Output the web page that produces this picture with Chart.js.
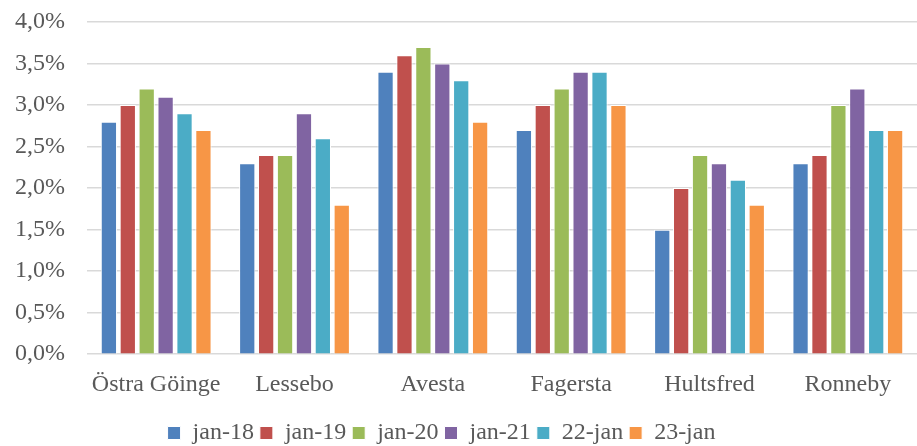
<!DOCTYPE html>
<html>
<head>
<meta charset="utf-8">
<script src="https://cdn.jsdelivr.net/npm/chart.js@4/dist/chart.umd.min.js"></script>
<style>
  html, body { margin: 0; padding: 0; background: #fff; }
  #wrap { width: 917px; height: 446px; }
</style>
</head>
<body>
<div id="wrap"><canvas id="chart"></canvas></div>
<script>
// categories (municipalities)
const categories = ['Östra Göinge', 'Lessebo', 'Avesta', 'Fagersta', 'Hultsfred', 'Ronneby'];

// series names, in legend order
const seriesNames = ['jan-18', 'jan-19', 'jan-20', 'jan-21', '22-jan', '23-jan'];

// values in percent, one array per series
const jan18 = [2.8, 2.3, 3.4, 2.7, 1.5, 2.3];
const jan19 = [3.0, 2.4, 3.6, 3.0, 2.0, 2.4];
const jan20 = [3.2, 2.4, 3.7, 3.2, 2.4, 3.0];
const jan21 = [3.1, 2.9, 3.5, 3.4, 2.3, 3.2];
const jan22 = [2.9, 2.6, 3.3, 3.4, 2.1, 2.7];
const jan23 = [2.7, 1.8, 2.8, 3.0, 1.8, 2.7];

const seriesValues = [jan18, jan19, jan20, jan21, jan22, jan23];
const colors = ['#4F81BD', '#C0504D', '#9BBB59', '#8064A2', '#4BACC6', '#F79646'];

const fontFamily = '"Liberation Serif", serif';
const textColor = '#595959';

let datasets = seriesNames.map((name, i) => ({
    label: name,
    data: seriesValues[i],
    backgroundColor: colors[i],
    borderColor: '#ffffff',
    borderWidth: 1,
    barPercentage: 0.86,
    categoryPercentage: 0.82
}));

// move the legend a bit to the left, like in the original
const legendShift = {
    id: 'legendShift',
    afterLayout(chart) {
        chart.legend.left -= 17;
        chart.legend.right -= 17;
    }
};

new Chart(document.getElementById('chart').getContext('2d'), {
    type: 'bar',
    data: { labels: categories, datasets: datasets },
    plugins: [legendShift],
    options: {
        responsive: true,
        maintainAspectRatio: false,
        animation: false,
        layout: { padding: { top: 22, right: 0, left: 0, bottom: -9 } },
        plugins: {
            tooltip: { enabled: false },
            legend: {
                position: 'bottom',
                labels: {
                    color: textColor,
                    font: { family: fontFamily, size: 24 },
                    boxWidth: 13,
                    boxHeight: 13,
                    padding: 6
                }
            }
        },
        scales: {
            x: {
                grid: { display: false, drawTicks: false },
                border: { display: false },
                ticks: {
                    color: textColor,
                    font: { family: fontFamily, size: 24 },
                    padding: 16
                }
            },
            y: {
                min: 0,
                max: 4,
                afterFit: function (scale) {
                    scale.width = 87;
                    scale.paddingTop = 0;
                },
                grid: { color: '#d9d9d9', lineWidth: 1.5, drawTicks: false },
                border: { display: false },
                ticks: {
                    stepSize: 0.5,
                    color: textColor,
                    font: { family: fontFamily, size: 24 },
                    padding: 22,
                    callback: v => v.toFixed(1).replace('.', ',') + '%'
                }
            }
        }
    }
});
</script>
</body>
</html>
